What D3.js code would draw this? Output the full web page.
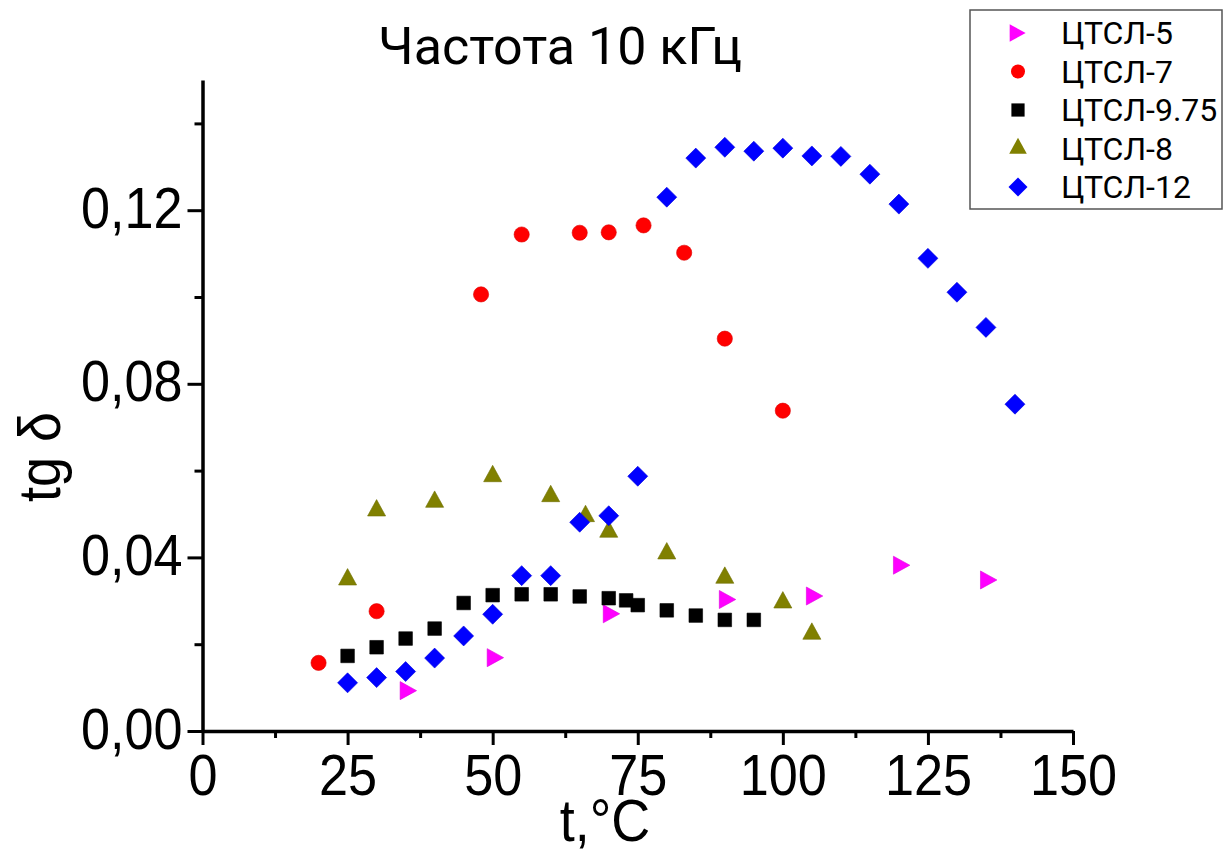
<!DOCTYPE html>
<html>
<head>
<meta charset="utf-8">
<script src="https://cdn.jsdelivr.net/npm/d3@7"></script>
<style>
  html, body { margin: 0; padding: 0; background: #fff; }
  svg { display: block; }
</style>
</head>
<body>
<svg id="chart" width="1224" height="854"></svg>
<script>
// Loss tangent vs temperature at 10 kHz for several ЦТСЛ compositions
const seriesNames = ["ЦТСЛ-5", "ЦТСЛ-7", "ЦТСЛ-9.75", "ЦТСЛ-8", "ЦТСЛ-12"];
const seriesColors = ["#ff00ff", "#ff0000", "#000000", "#808000", "#0000ff"];
const seriesShapes = ["triRight", "circle", "square", "triUp", "diamond"];

const t5 = [35, 50, 70, 90, 105, 120, 135];
const tan5 = [0.0093, 0.0169, 0.0270, 0.0303, 0.0311, 0.0382, 0.0348];

const t7 = [20, 30, 48, 55, 65, 70, 76, 83, 90, 100];
const tan7 = [0.0157, 0.0276, 0.1006, 0.1144, 0.1148, 0.1149, 0.1165, 0.1102, 0.0904, 0.0738];

const t975 = [25, 30, 35, 40, 45, 50, 55, 60, 65, 70, 73, 75, 80, 85, 90, 95];
const tan975 = [0.0173, 0.0193, 0.0213, 0.0236, 0.0295, 0.0313, 0.0315, 0.0315, 0.0310, 0.0306, 0.0301, 0.0290, 0.0278, 0.0266, 0.0256, 0.0256];

const t8 = [25, 30, 40, 50, 60, 66, 70, 80, 90, 100, 105];
const tan8 = [0.0349, 0.0508, 0.0528, 0.0587, 0.0541, 0.0495, 0.0459, 0.0409, 0.0353, 0.0296, 0.0224];

const t12 = [25, 30, 35, 40, 45, 50, 55, 60, 65, 70, 75, 80, 85, 90, 95, 100, 105, 110, 115, 120, 125, 130, 135, 140];
const tan12 = [0.0111, 0.0123, 0.0137, 0.0168, 0.0219, 0.0269, 0.0358, 0.0358, 0.0481, 0.0496, 0.0587, 0.1230, 0.1320, 0.1345, 0.1336, 0.1343, 0.1325, 0.1324, 0.1283, 0.1214, 0.1089, 0.1011, 0.0930, 0.0753];

const xTicks = [0, 25, 50, 75, 100, 125, 150];
const xMinorTicks = [12.5, 37.5, 62.5, 87.5, 112.5, 137.5];
const yTicks = [0, 0.04, 0.08, 0.12];
const yMinorTicks = [0.02, 0.06, 0.10, 0.14];

const titleText = "Частота 10 кГц";
const xTitle = "t,°C";
const yTitle = "tg δ";

const seriesT = [t5, t7, t975, t8, t12];
const seriesTan = [tan5, tan7, tan975, tan8, tan12];

// ---- layout ----
const svg = d3.select("#chart");
const x = d3.scaleLinear().domain([0, 150]).range([202.5, 1073]);
const y = d3.scaleLinear().domain([0, 0.15]).range([731, 80]);
const AXIS_FONT = "Arial, 'Liberation Sans', sans-serif";
const SQUEEZE = 0.9;

// ---- marker shapes ----
const shapes = {
  circle: { draw(ctx, s) { const r = s; ctx.moveTo(r, 0); ctx.arc(0, 0, r, 0, 2 * Math.PI); } },
  square: { draw(ctx, s) { ctx.rect(-s, -s, 2 * s, 2 * s); ctx.closePath(); } },
  diamond: { draw(ctx, s) { ctx.moveTo(0, -s); ctx.lineTo(s, 0); ctx.lineTo(0, s); ctx.lineTo(-s, 0); ctx.closePath(); } },
  triUp: { draw(ctx, s) { const w = s * 2.2, h = s * 2; ctx.moveTo(0, -2 * h / 3); ctx.lineTo(w / 2, h / 3); ctx.lineTo(-w / 2, h / 3); ctx.closePath(); } },
  triRight: { draw(ctx, s) { const w = s * 2, h = s * 2.2; ctx.moveTo(2 * w / 3, 0); ctx.lineTo(-w / 3, h / 2); ctx.lineTo(-w / 3, -h / 2); ctx.closePath(); } }
};
const shapeSize = { circle: 7.6, square: 6.8, diamond: 10, triUp: 8.2, triRight: 8.2 };
const legendSize = { circle: 7, square: 6.6, diamond: 9.5, triUp: 8, triRight: 8 };

// ---- axes ----
const xAxis = svg.append("g").attr("transform", `translate(0,${y(0)})`)
  .call(d3.axisBottom(x).tickValues(xTicks).tickSize(14).tickSizeOuter(0).tickFormat(d3.format("d")));
const xMinor = svg.append("g").attr("transform", `translate(0,${y(0)})`)
  .call(d3.axisBottom(x).tickValues(xMinorTicks).tickSize(7).tickSizeOuter(0).tickFormat(""));
xMinor.select(".domain").remove();

const yAxis = svg.append("g").attr("transform", `translate(${x(0)},0)`)
  .call(d3.axisLeft(y).tickValues(yTicks).tickSize(15).tickSizeOuter(0)
    .tickFormat(d => d3.format(".2f")(d).replace(".", ",")));
const yMinor = svg.append("g").attr("transform", `translate(${x(0)},0)`)
  .call(d3.axisLeft(y).tickValues(yMinorTicks).tickSize(8).tickSizeOuter(0).tickFormat(""));
yMinor.select(".domain").remove();

svg.selectAll(".domain").attr("stroke", "#000").attr("stroke-width", 3.5);
svg.selectAll(".tick line").attr("stroke", "#000").attr("stroke-width", 3);

xAxis.selectAll(".tick text")
  .attr("y", 0).attr("dy", null)
  .attr("transform", `translate(0,64) scale(${SQUEEZE},1)`)
  .attr("font-family", AXIS_FONT).attr("font-size", 58).attr("fill", "#000");
yAxis.selectAll(".tick text")
  .attr("x", 0).attr("dy", null)
  .attr("transform", `translate(-20,17) scale(${SQUEEZE},1)`)
  .attr("font-family", AXIS_FONT).attr("font-size", 58).attr("fill", "#000");

// ---- titles ----
svg.append("text")
  .attr("transform", `translate(560,64)`)
  .attr("text-anchor", "middle")
  .attr("font-family", "Roboto, sans-serif").attr("font-size", 52)
  .attr("fill", "#000").text(titleText);

svg.append("text")
  .attr("transform", `translate(605,841) scale(${SQUEEZE},1)`)
  .attr("text-anchor", "middle")
  .attr("font-family", AXIS_FONT).attr("font-size", 60)
  .attr("fill", "#000").text(xTitle);

svg.append("text")
  .attr("transform", `translate(60,457) rotate(-90) scale(${SQUEEZE},1)`)
  .attr("text-anchor", "middle")
  .attr("font-family", AXIS_FONT).attr("font-size", 60)
  .attr("fill", "#000").text(yTitle);

// ---- data points ----
seriesNames.forEach((name, i) => {
  const shape = seriesShapes[i];
  const pts = seriesT[i].map((t, k) => ({ t, v: seriesTan[i][k] }));
  const sym = d3.symbol().type(shapes[shape]).size(shapeSize[shape]);
  svg.append("g").attr("class", "series")
    .selectAll("path").data(pts).join("path")
    .attr("d", sym)
    .attr("transform", d => `translate(${x(d.t)},${y(d.v)})`)
    .attr("fill", seriesColors[i])
    .attr("stroke", d3.color(seriesColors[i]).darker(0.4))
    .attr("stroke-width", 0.6);
});

// ---- legend ----
const legend = svg.append("g");
legend.append("rect")
  .attr("x", 970).attr("y", 10).attr("width", 252).attr("height", 199)
  .attr("fill", "#fff").attr("stroke", "#555").attr("stroke-width", 1.5);
seriesNames.forEach((name, i) => {
  const shape = seriesShapes[i];
  const cy = 33 + i * 38.5;
  legend.append("path")
    .attr("d", d3.symbol().type(shapes[shape]).size(legendSize[shape]))
    .attr("transform", `translate(${shape === "triRight" ? 1015 : 1018},${cy})`)
    .attr("fill", seriesColors[i]);
  legend.append("text")
    .attr("x", 1061).attr("y", cy + 11)
    .attr("font-family", "Roboto, sans-serif").attr("font-size", 32)
    .attr("fill", "#000").text(name);
});
</script>
</body>
</html>
